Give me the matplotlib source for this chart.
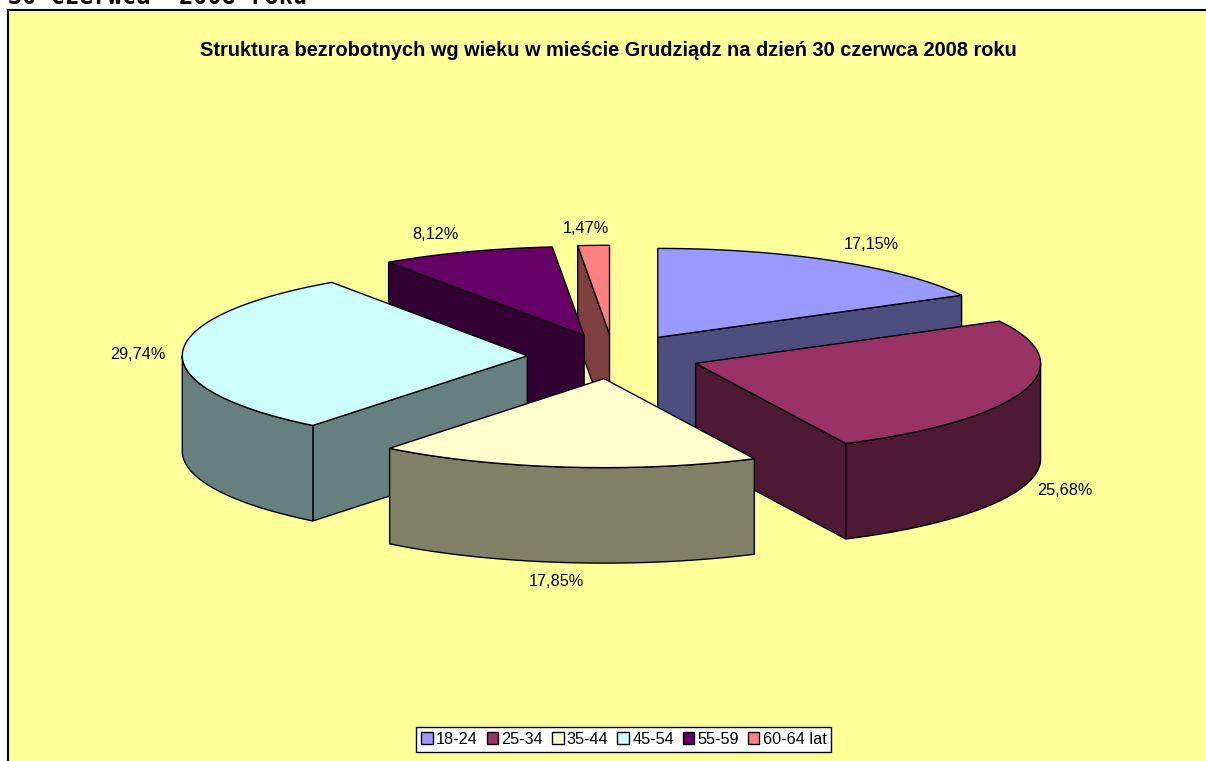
import numpy as np
import matplotlib
matplotlib.use("Agg")
import matplotlib.pyplot as plt
from matplotlib.patches import Polygon, Rectangle

categories = ["18-24", "25-34", "35-44", "45-54", "55-59", "60-64 lat"]
shares = [17.15, 25.68, 17.85, 29.74, 8.12, 1.47]
value_labels = ["17,15%", "25,68%", "17,85%", "29,74%", "8,12%", "1,47%"]
title = "Struktura bezrobotnych wg wieku w mieście Grudziądz na dzień 30 czerwca 2008 roku"
header = "30 czerwca  2008 roku"

top_colors = ["#9999FF", "#993366", "#FFFFCC", "#CCFFFF", "#660066", "#FF8080"]
side_colors = ["#4D4D80", "#4D1933", "#808066", "#668080", "#330033", "#804040"]

# layout of the projected pie (pixels)
W, H = 1206, 761
CX, CY = 613.5, 356.5
RX, RY = 345.0, 89.0
DEPTH = 95.5
EXPLODE = 0.25
LABEL_OFFSETS = [(37, -17), (41.5, 4), (-9.5, 19), (-45, 2), (-31.5, -17), (-7.5, -17)]

plt.rcParams["font.family"] = ["Liberation Sans", "DejaVu Sans"]
fig = plt.figure(figsize=(W / 100, H / 100), dpi=100, facecolor="white")
ax = fig.add_axes([0, 0, 1, 1])
ax.set_xlim(0, W)
ax.set_ylim(H, 0)
ax.axis("off")

ax.add_patch(Rectangle((8.3, 10.3), W + 20, H + 20, facecolor="#FFFF99",
                       edgecolor="black", linewidth=1.5, zorder=0))
ax.text(8, 4, header, family="DejaVu Sans Mono", fontweight="bold", fontsize=17,
        ha="left", va="baseline", color="black", zorder=1)

vals = np.array(shares)
edges = np.concatenate([[0], np.cumsum(vals)]) / vals.sum() * 2 * np.pi
mids = (edges[:-1] + edges[1:]) / 2


def rim(ax0, ay0, th):
    th = np.asarray(th)
    return np.column_stack([ax0 + RX * np.sin(th), ay0 - RY * np.cos(th)])


lw = 1.0
style = dict(edgecolor="black", linewidth=lw, joinstyle="miter")
z = 2
for i in np.argsort(-np.cos(mids)):
    a0, a1 = edges[i], edges[i + 1]
    ox = CX + EXPLODE * RX * np.sin(mids[i])
    oy = CY - EXPLODE * RY * np.cos(mids[i])
    down = np.array([0, DEPTH])
    apex = np.array([ox, oy])

    # cut faces
    for ang, visible in ((a0, np.sin(a0) < -1e-9), (a1, np.sin(a1) > 1e-9)):
        if visible:
            p = rim(ox, oy, [ang])[0]
            ax.add_patch(Polygon([apex, p, p + down, apex + down], closed=True,
                                 facecolor=side_colors[i], zorder=z, **style))
            z += 1
    # outer wall (front half of the rim)
    w0, w1 = max(a0, np.pi / 2), min(a1, 3 * np.pi / 2)
    if w1 > w0:
        arc = rim(ox, oy, np.linspace(w0, w1, 120))
        ax.add_patch(Polygon(np.vstack([arc, (arc + down)[::-1]]), closed=True,
                             facecolor=side_colors[i], zorder=z, **style))
        z += 1
    # top
    arc = rim(ox, oy, np.linspace(a0, a1, 160))
    ax.add_patch(Polygon(np.vstack([apex, arc]), closed=True,
                         facecolor=top_colors[i], zorder=z, **style))
    z += 1

    # value label
    lp = rim(ox, oy, [mids[i]])[0]
    if np.cos(mids[i]) < 0:
        lp = lp + down
    ax.text(lp[0] + LABEL_OFFSETS[i][0], lp[1] + LABEL_OFFSETS[i][1], value_labels[i],
            ha="center", va="center", fontsize=11.7, color="black", zorder=100)

ax.text(608, 50, title, ha="center", va="center", fontsize=14.4,
        fontweight="bold", color="black", zorder=100)

handles = [Rectangle((0, 0), 1, 1, facecolor=c, edgecolor="black", linewidth=lw)
           for c in top_colors]
leg = ax.legend(handles, categories, ncol=6, loc="center",
                bbox_to_anchor=(623.7 / W, 1 - 739.3 / H), bbox_transform=fig.transFigure,
                fontsize=11.7, frameon=True, fancybox=False, framealpha=1,
                edgecolor="black", facecolor="white", handlelength=0.72, handleheight=0.72,
                handletextpad=0.2, columnspacing=0.53, borderpad=0.3, borderaxespad=0,
                labelspacing=0)
leg.get_frame().set_linewidth(lw)
leg.set_zorder(100)

fig.savefig("out.png", dpi=100)
